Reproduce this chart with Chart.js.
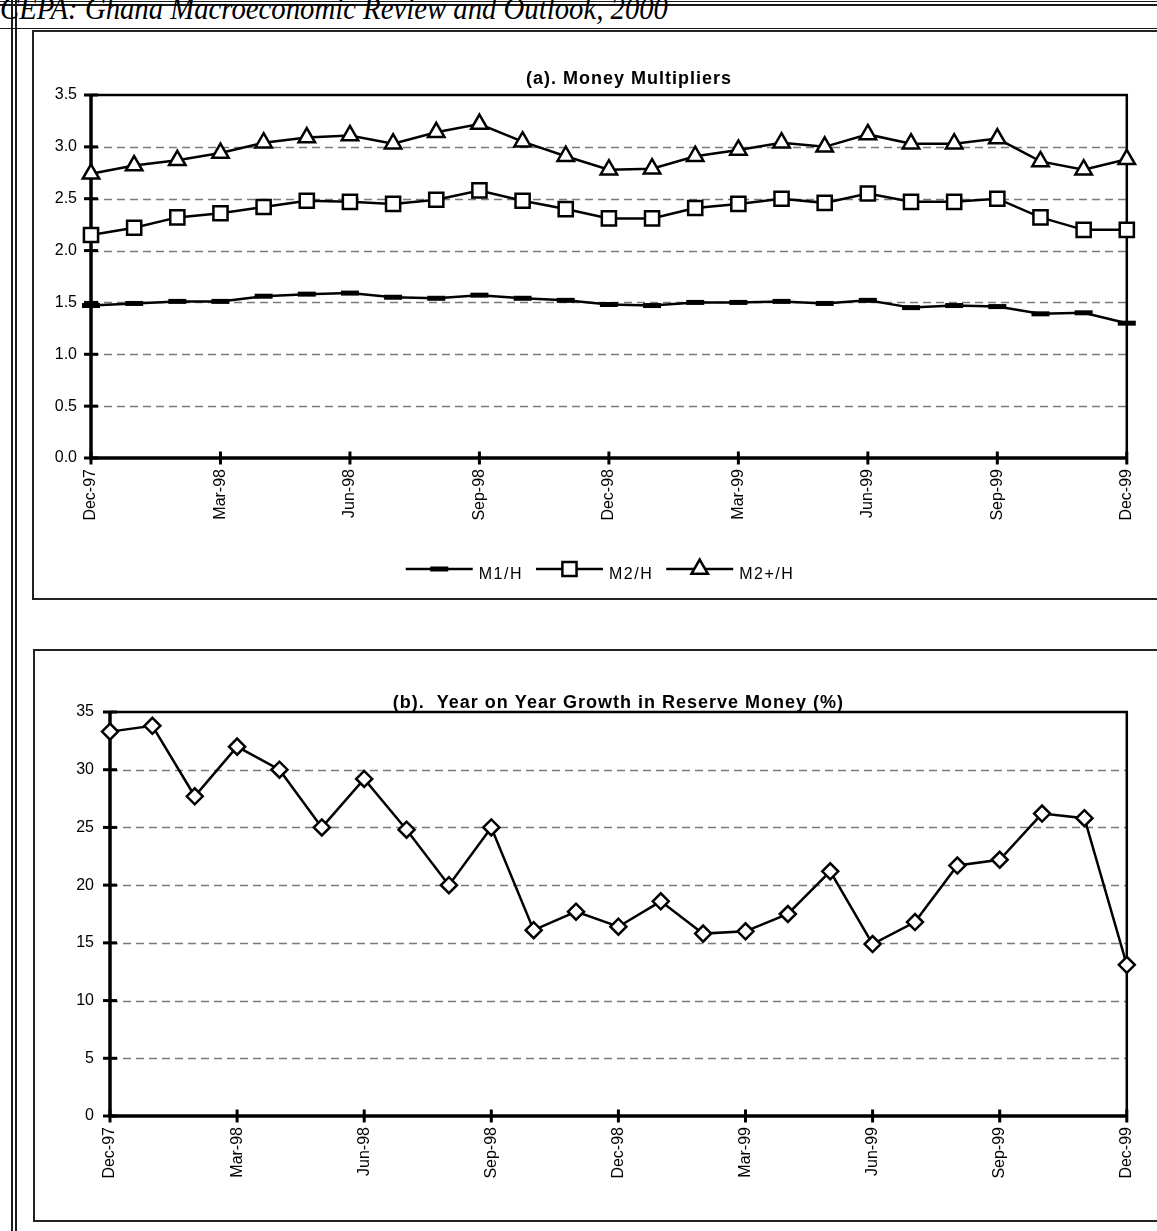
<!DOCTYPE html>
<html>
<head>
<meta charset="utf-8">
<title>Money Multipliers and Reserve Money Growth</title>
<script src="https://cdn.jsdelivr.net/npm/chart.js"></script>
<style>
  html, body { margin: 0; padding: 0; background: #fff; }
  body { width: 1157px; height: 1231px; position: relative; overflow: hidden; }
  .rule { position: absolute; background: #1a1a1a; }
  #header {
    position: absolute; left: 0; top: -6px; margin: 0;
    font: italic 31px 'Liberation Serif', 'Times New Roman', serif;
    line-height: 30px; white-space: nowrap; color: #000;
    transform-origin: 0 0;
  }
  .frame { position: absolute; border: 2px solid #222; box-sizing: border-box; }
  canvas { position: absolute; left: 0; }
</style>
</head>
<body>
<div class="rule" style="left:11px;top:0;width:1.5px;height:1231px"></div>
<div class="rule" style="left:15px;top:0;width:1.5px;height:1231px"></div>
<div class="rule" style="left:0;top:1px;width:1157px;height:1px"></div>
<div class="rule" style="left:0;top:4px;width:1157px;height:1.5px"></div>
<div id="header">CEPA: Ghana Macroeconomic Review and Outlook, 2000</div>
<div class="rule" style="left:0;top:28px;width:1157px;height:1px"></div>

<div class="frame" style="left:32px;top:30px;width:1200px;height:570px"></div>
<div class="frame" style="left:33px;top:649px;width:1200px;height:573px"></div>

<canvas id="multipliers" width="1157" height="600" style="top:0"></canvas>
<canvas id="reserve" width="1157" height="631" style="top:600px"></canvas>

<script>
// Monthly observations, December 1997 to December 1999
const months = ['Dec-97','Jan-98','Feb-98','Mar-98','Apr-98','May-98','Jun-98','Jul-98','Aug-98',
                'Sep-98','Oct-98','Nov-98','Dec-98','Jan-99','Feb-99','Mar-99','Apr-99','May-99',
                'Jun-99','Jul-99','Aug-99','Sep-99','Oct-99','Nov-99','Dec-99'];

// (a) money multipliers
const m1H  = [1.47,1.49,1.51,1.51,1.56,1.58,1.59,1.55,1.54,1.57,1.54,1.52,1.48,
              1.47,1.50,1.50,1.51,1.49,1.52,1.45,1.47,1.46,1.39,1.40,1.30];
const m2H  = [2.15,2.22,2.32,2.36,2.42,2.48,2.47,2.45,2.49,2.58,2.48,2.40,2.31,
              2.31,2.41,2.45,2.50,2.46,2.55,2.47,2.47,2.50,2.32,2.20,2.20];
const m2pH = [2.74,2.82,2.87,2.94,3.04,3.09,3.11,3.03,3.14,3.22,3.05,2.91,2.78,
              2.79,2.91,2.97,3.04,3.00,3.12,3.03,3.03,3.08,2.86,2.78,2.88];

// (b) year-on-year growth in reserve money, %
const reserveGrowth = [33.3,33.8,27.7,32.0,30.0,25.0,29.2,24.8,20.0,25.0,16.1,17.7,16.4,
                       18.6,15.8,16.0,17.5,21.2,14.9,16.8,21.7,22.2,26.2,25.8,13.1];

const seriesLabels = ['M1/H', 'M2/H', 'M2+/H'];
const titleA = '(a). Money Multipliers';
const titleB = '(b).  Year on Year Growth in Reserve Money (%)';
const labelEvery = 3;

const FONT = "'Liberation Sans', Arial, Helvetica, sans-serif";

// fit the running header to its printed width
(function () {
  const h = document.getElementById('header');
  const w = h.getBoundingClientRect().width;
  h.style.transform = 'scaleX(' + (668 / w) + ')';
})();

// marker painter for the key, using the library helper when exposed
function paintMark(ctx, style, r, x, y) {
  if (window.Chart && Chart.helpers && Chart.helpers.drawPoint) {
    Chart.helpers.drawPoint(ctx, { pointStyle: style, radius: r, rotation: 0, borderWidth: ctx.lineWidth }, x, y);
    return;
  }
  ctx.beginPath();
  if (style === 'line') { ctx.moveTo(x - r, y); ctx.lineTo(x + r, y); ctx.stroke(); return; }
  if (style === 'rect') { const s = r * Math.SQRT1_2; ctx.rect(x - s, y - s, 2 * s, 2 * s); }
  if (style === 'triangle') {
    ctx.moveTo(x, y - r);
    ctx.lineTo(x + r * Math.sin(2 * Math.PI / 3), y - r * Math.cos(2 * Math.PI / 3));
    ctx.lineTo(x + r * Math.sin(4 * Math.PI / 3), y - r * Math.cos(4 * Math.PI / 3));
    ctx.closePath();
  }
  ctx.fill(); ctx.stroke();
}

// plot frame: dashed value gridlines, heavy axes, crossing tick marks
const axisFrame = {
  id: 'axisFrame',
  beforeDatasetsDraw(chart) {
    const { ctx, chartArea: a } = chart;
    const x = chart.scales.x, y = chart.scales.y;
    ctx.save();
    ctx.strokeStyle = '#7a7a7a';
    ctx.lineWidth = 1.3;
    ctx.setLineDash([8, 5]);
    y.ticks.forEach(t => {
      if (t.value <= y.min || t.value >= y.max) return;
      const py = Math.round(y.getPixelForValue(t.value)) + 0.5;
      ctx.beginPath(); ctx.moveTo(a.left, py); ctx.lineTo(a.right, py); ctx.stroke();
    });
    ctx.setLineDash([]);
    ctx.strokeStyle = '#000';
    ctx.lineWidth = 2.5;
    ctx.beginPath(); ctx.moveTo(a.left, a.top); ctx.lineTo(a.right, a.top); ctx.lineTo(a.right, a.bottom); ctx.stroke();
    ctx.lineWidth = 3.5;
    ctx.beginPath(); ctx.moveTo(a.left, a.top - 1); ctx.lineTo(a.left, a.bottom); ctx.lineTo(a.right + 1, a.bottom); ctx.stroke();
    ctx.lineWidth = 3;
    y.ticks.forEach(t => {
      const py = y.getPixelForValue(t.value);
      ctx.beginPath(); ctx.moveTo(a.left - 7, py); ctx.lineTo(a.left + 7, py); ctx.stroke();
    });
    x.ticks.forEach((t, i) => {
      if (i % labelEvery) return;
      const px = x.getPixelForTick(i);
      ctx.beginPath(); ctx.moveTo(px, a.bottom - 6.5); ctx.lineTo(px, a.bottom + 6.5); ctx.stroke();
    });
    ctx.restore();
  }
};

// bold, letter-spaced chart heading
const heading = {
  id: 'heading',
  afterDraw(chart, args, o) {
    if (!o.text) return;
    const ctx = chart.ctx, a = chart.chartArea;
    ctx.save();
    ctx.font = 'bold 18px ' + FONT;
    ctx.letterSpacing = '1px';
    ctx.fillStyle = '#000';
    ctx.textAlign = 'center';
    ctx.textBaseline = 'alphabetic';
    ctx.fillText(o.text, (a.left + a.right) / 2 + (o.dx || 0), o.y);
    ctx.restore();
  }
};

// horizontal key: line sample with its marker, then the series name
const seriesKey = {
  id: 'seriesKey',
  afterDraw(chart, args, o) {
    if (!o.display) return;
    const ctx = chart.ctx;
    ctx.save();
    ctx.font = '16px ' + FONT;
    ctx.letterSpacing = '1.5px';
    const items = chart.data.datasets.map(ds => ({ ds, w: ctx.measureText(ds.label).width }));
    const total = items.reduce((s, it) => s + o.sampleWidth + o.gap + it.w, 0) + o.spacing * (items.length - 1);
    let x = o.centerX - total / 2;
    items.forEach(({ ds, w }) => {
      ctx.strokeStyle = ds.borderColor;
      ctx.lineWidth = 2.3;
      ctx.beginPath(); ctx.moveTo(x, o.y); ctx.lineTo(x + o.sampleWidth, o.y); ctx.stroke();
      ctx.fillStyle = ds.pointBackgroundColor;
      ctx.strokeStyle = ds.pointBorderColor;
      ctx.lineWidth = ds.pointBorderWidth;
      paintMark(ctx, ds.pointStyle, ds.pointRadius, x + o.sampleWidth / 2, o.y);
      ctx.fillStyle = '#000';
      ctx.textAlign = 'left';
      ctx.textBaseline = 'alphabetic';
      ctx.fillText(ds.label, x + o.sampleWidth + o.gap, o.y + o.textDrop);
      x += o.sampleWidth + o.gap + w + o.spacing;
    });
    ctx.restore();
  }
};

function xAxis(height, pad) {
  return {
    type: 'category',
    offset: false,
    grid: { display: false, drawTicks: false },
    border: { display: false },
    ticks: {
      autoSkip: false, maxRotation: 90, minRotation: 90, padding: pad,
      color: '#000', font: { family: FONT, size: 16 },
      callback: function (v, i) { return i % labelEvery === 0 ? this.getLabelForValue(v) : ''; }
    },
    afterFit: s => { s.height = height; }
  };
}

function yAxis(width, max, step, digits, pad) {
  return {
    min: 0, max: max,
    grid: { display: false, drawTicks: false },
    border: { display: false },
    ticks: {
      stepSize: step, padding: pad, color: '#000',
      font: { family: FONT, size: 16 },
      callback: v => Number(v).toFixed(digits)
    },
    afterFit: s => { s.width = width; }
  };
}

function lineSeries(label, data, style, radius, fill, bw) {
  return {
    label, data,
    borderColor: '#000', borderWidth: 2.5, tension: 0, fill: false, clip: false,
    pointStyle: style, pointRadius: radius, pointHoverRadius: radius,
    pointBackgroundColor: fill, pointBorderColor: '#000', pointBorderWidth: bw
  };
}

new Chart(document.getElementById('multipliers'), {
  type: 'line',
  data: {
    labels: months,
    datasets: [
      lineSeries(seriesLabels[0], m1H, 'line', 9, '#000', 5),
      lineSeries(seriesLabels[1], m2H, 'rect', 10, '#fff', 2.5),
      lineSeries(seriesLabels[2], m2pH, 'triangle', 9.5, '#fff', 2.5)
    ]
  },
  options: {
    responsive: false, animation: false, devicePixelRatio: 1, events: [],
    layout: { padding: { left: 30, right: 29, top: 95, bottom: 0 } },
    scales: { x: xAxis(142, 11), y: yAxis(61, 3.5, 0.5, 1, 14) },
    plugins: {
      legend: { display: false }, tooltip: { enabled: false },
      heading: { text: titleA, y: 84, dx: 20 },
      seriesKey: { display: true, centerX: 600, y: 569, sampleWidth: 67, gap: 6, spacing: 13, textDrop: 10 }
    }
  },
  plugins: [axisFrame, heading, seriesKey]
});

new Chart(document.getElementById('reserve'), {
  type: 'line',
  data: {
    labels: months,
    datasets: [ lineSeries('Reserve money growth', reserveGrowth, 'rectRot', 8, '#fff', 2.5) ]
  },
  options: {
    responsive: false, animation: false, devicePixelRatio: 1, events: [],
    layout: { padding: { left: 30, right: 29, top: 112, bottom: 0 } },
    scales: { x: xAxis(115, 11), y: yAxis(80, 35, 5, 0, 16) },
    plugins: {
      legend: { display: false }, tooltip: { enabled: false },
      heading: { text: titleB, y: 108 },
      seriesKey: { display: false }
    }
  },
  plugins: [axisFrame, heading, seriesKey]
});
</script>
</body>
</html>
